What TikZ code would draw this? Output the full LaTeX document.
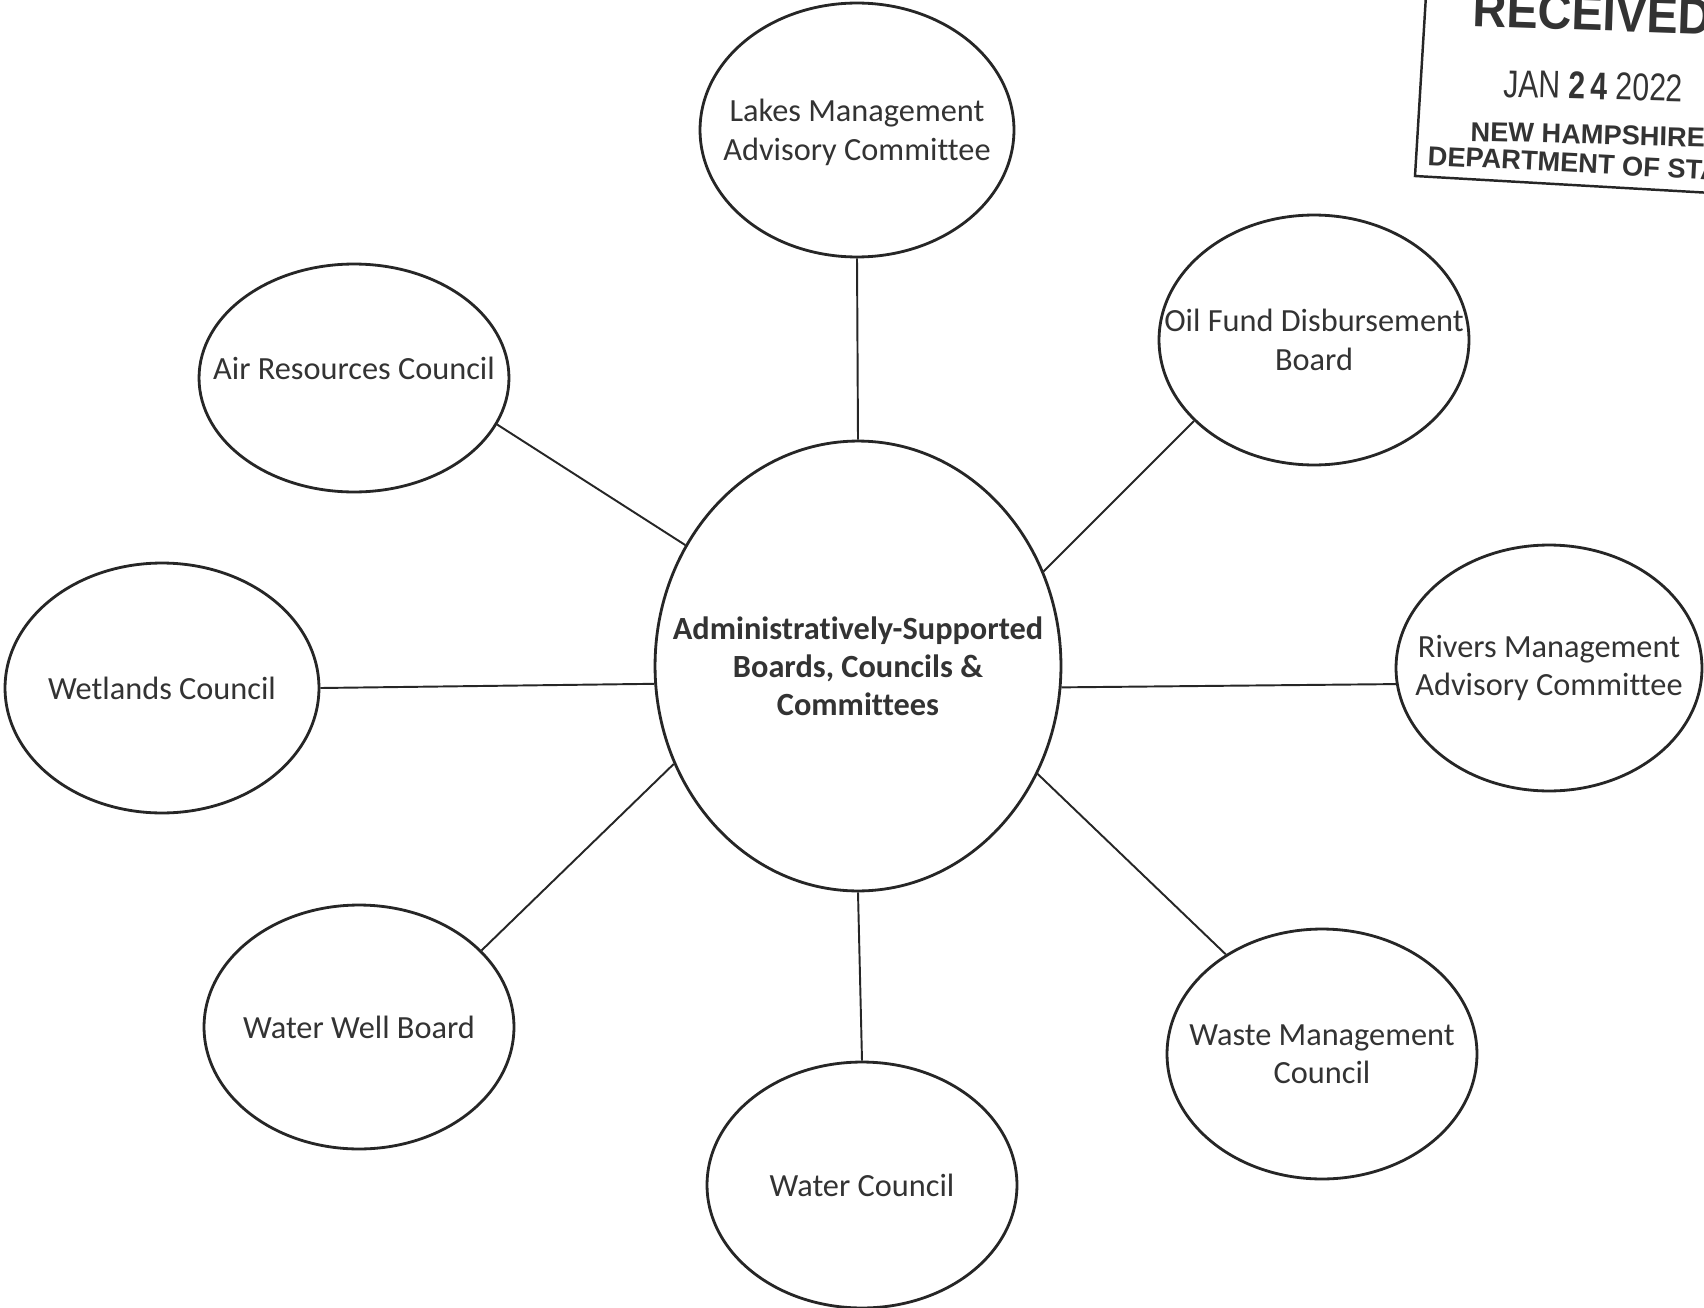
\documentclass[tikz,border=0pt]{standalone}
\usepackage{fontspec}
\setmainfont{Carlito}[Ligatures={NoCommon}]
\newfontfamily\stampfont{Liberation Sans}
\usetikzlibrary{shapes.geometric}
\definecolor{ink}{HTML}{262626}
\definecolor{txt}{HTML}{333333}
\begin{document}
\begin{tikzpicture}[x=0.02cm,y=-0.02cm,
  bubble/.style={ellipse, draw=ink, line width=1.6pt, inner sep=0pt},
  lbl/.style={text=txt, align=center, inner sep=0pt, font=\fontsize{18.4}{21.8}\selectfont},
  hub/.style={text=txt, align=center, inner sep=0pt, font=\fontsize{18.4}{21.5}\selectfont\bfseries},
  link/.style={draw=ink, line width=1.1pt},
  stamp/.style={text=txt, anchor=base west, inner sep=0pt}]
\useasboundingbox[fill=white] (0,0) rectangle (1704,1308);

% central hub
\node[bubble, minimum width=8.12cm, minimum height=9.0cm,
  label={[hub]center:Administratively-Supported\\Boards, Councils \&\\Committees}] (hubc) at (858,666) {};

% satellites
\node[bubble, minimum width=6.28cm, minimum height=5.08cm,
  label={[lbl, yshift=-0.05cm]center:Lakes Management\\Advisory Committee}] (lakes) at (857,130) {};
\node[bubble, minimum width=6.2cm, minimum height=4.56cm,
  label={[lbl, yshift=0.2cm]center:Air Resources Council}] (air) at (354,378) {};
\node[bubble, minimum width=6.2cm, minimum height=5.0cm,
  label={[lbl]center:Oil Fund Disbursement\\Board}] (oil) at (1314,340) {};
\node[bubble, minimum width=6.28cm, minimum height=5.0cm,
  label={[lbl]center:Wetlands Council}] (wet) at (162,688) {};
\node[bubble, minimum width=6.12cm, minimum height=4.92cm,
  label={[lbl]center:Rivers Management\\Advisory Committee}] (rivers) at (1549,668) {};
\node[bubble, minimum width=6.2cm, minimum height=4.88cm,
  label={[lbl]center:Water Well Board}] (well) at (359,1027) {};
\node[bubble, minimum width=6.2cm, minimum height=4.92cm,
  label={[lbl]center:Water Council}] (water) at (862,1185) {};
\node[bubble, minimum width=6.2cm, minimum height=5.0cm,
  label={[lbl]center:Waste Management\\Council}] (waste) at (1322,1054) {};

% connectors
\draw[link] (lakes.270) -- (hubc.90);
\draw[link] (air.-18) -- (hubc.145);
\draw[link] (oil.214) -- (hubc.27);
\draw[link] (wet.0) -- (hubc.185);
\draw[link] (rivers.186) -- (hubc.-6);
\draw[link] (well.32) -- (hubc.208);
\draw[link] (water.90) -- (hubc.270);
\draw[link] (waste.134) -- (hubc.-31);

% received stamp (cut by the page edge)
\begin{scope}
  \clip (0,0) rectangle (1704,1308);
  \coordinate (stA) at (1426,-5);
  \coordinate (stB) at (1415,176);
  \coordinate (stC) at (1712,193);
  \draw[ink, line width=1.4pt] (stA) -- (stB) -- (stC);
  \node[stamp, rotate=-2, xscale=0.92, font=\stampfont\bfseries\fontsize{29}{29}\selectfont] (rcv) at (1472,26) {RECEIVED};
  \node[stamp, rotate=-1.5, xscale=0.78, font=\stampfont\fontsize{22}{22}\selectfont] (date) at (1503,97) {JAN \textbf{2\,4} 2022};
  \node[stamp, rotate=-1.5, font=\stampfont\bfseries\fontsize{15.5}{15.5}\selectfont] (nh) at (1470,141) {NEW HAMPSHIRE};
  \node[stamp, rotate=-3, font=\stampfont\bfseries\fontsize{15.5}{15.5}\selectfont] (dept) at (1427,165) {DEPARTMENT OF STATE};
\end{scope}
\end{tikzpicture}
\end{document}
